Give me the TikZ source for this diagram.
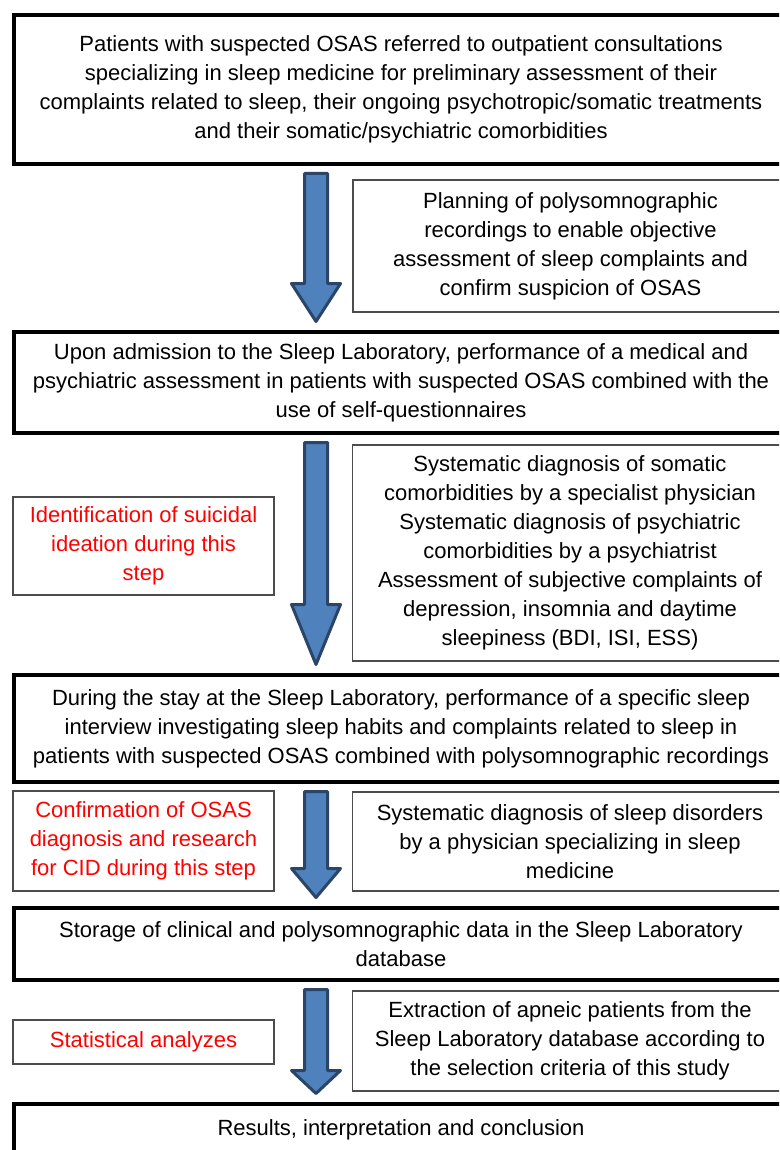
\documentclass[tikz,border=0pt]{standalone}
\usepackage{fontspec}
\setmainfont{Liberation Sans}
\usetikzlibrary{calc}
\definecolor{arrowfill}{HTML}{4F81BD}
\definecolor{arrowedge}{HTML}{2A4567}
\definecolor{note}{HTML}{FF0000}
% block arrow from one stage to the next: from, to, head length
\newcommand{\bigarrow}[3]{%
  \draw[bigarrow] let \p1=(#1.south), \p2=(#2.north) in
    ({304.5pt},{\y1-7.5pt}) -- ({327.5pt},{\y1-7.5pt})
    -- ({327.5pt},{\y2+5.5pt+#3pt}) -- ({340.5pt},{\y2+5.5pt+#3pt})
    -- ({316pt},{\y2+8.5pt})
    -- ({291.5pt},{\y2+5.5pt+#3pt}) -- ({304.5pt},{\y2+5.5pt+#3pt}) -- cycle;
}

\begin{document}
\begin{tikzpicture}[x=1pt,y=-1pt,
  every node/.style={font=\fontsize{22}{29}\selectfont,align=center,inner sep=0pt},
  stage/.style={draw,line width=4pt,minimum width=774pt},
  sidebox/.style={draw=black!70,line width=1.3pt,minimum width=435pt},
  notebox/.style={draw=black!70,line width=1.3pt,minimum width=261pt,text=note},
  bigarrow/.style={fill=arrowfill,draw=arrowedge,line width=3pt,line join=round}]
  \useasboundingbox (0,0) rectangle (779,1150);
  \clip (0,0) rectangle (779,1150);

  % main stages
  \node[stage,minimum height=149pt] (referral) at (401,89.5)
    {Patients with suspected OSAS referred to outpatient consultations\\
     specializing in sleep medicine for preliminary assessment of their\\
     complaints related to sleep, their ongoing psychotropic/somatic treatments\\
     and their somatic/psychiatric comorbidities};
  \node[stage,minimum height=101pt] (admission) at (401,382.5)
    {Upon admission to the Sleep Laboratory, performance of a medical and\\
     psychiatric assessment in patients with suspected OSAS combined with the\\
     use of self-questionnaires};
  \node[stage,minimum height=107pt] (stay) at (401,728.5)
    {During the stay at the Sleep Laboratory, performance of a specific sleep\\
     interview investigating sleep habits and complaints related to sleep in\\
     patients with suspected OSAS combined with polysomnographic recordings};
  \node[stage,minimum height=72pt] (storage) at (401,944)
    {Storage of clinical and polysomnographic data in the Sleep Laboratory\\
     database};
  \node[stage,minimum height=52pt] (results) at (401,1130)
    {Results, interpretation and conclusion};

  % right-hand boxes
  \node[sidebox,minimum height=132pt] (planning) at (570.5,246)
    {Planning of polysomnographic\\
     recordings to enable objective\\
     assessment of sleep complaints and\\
     confirm suspicion of OSAS};
  \node[sidebox,minimum height=216pt] (diagnosis) at (570,553)
    {Systematic diagnosis of somatic\\
     comorbidities by a specialist physician\\
     Systematic diagnosis of psychiatric\\
     comorbidities by a psychiatrist\\
     Assessment of subjective complaints of\\
     depression, insomnia and daytime\\
     sleepiness (BDI, ISI, ESS)};
  \node[sidebox,minimum height=99pt] (sleepdis) at (570,841.5)
    {Systematic diagnosis of sleep disorders\\
     by a physician specializing in sleep\\
     medicine};
  \node[sidebox,minimum height=100pt] (extraction) at (570,1041)
    {Extraction of apneic patients from the\\
     Sleep Laboratory database according to\\
     the selection criteria of this study};

  % left-hand notes (red)
  \node[notebox,minimum height=98pt] (suicidal) at (143.5,546)
    {Identification of suicidal\\
     ideation during this\\
     step};
  \node[notebox,minimum height=100pt] (confirm) at (143.5,841)
    {Confirmation of OSAS\\
     diagnosis and research\\
     for CID during this step};
  \node[notebox,minimum height=44pt] (stats) at (143.5,1042)
    {Statistical analyzes};

  % block arrows between stages
  \bigarrow{referral}{admission}{41}
  \bigarrow{admission}{stay}{63}
  \bigarrow{stay}{storage}{32}
  \bigarrow{storage}{results}{26}
\end{tikzpicture}
\end{document}
